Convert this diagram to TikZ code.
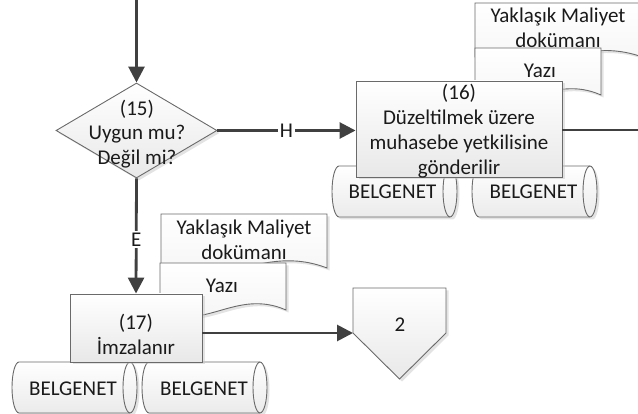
\documentclass[tikz,border=0pt]{standalone}
\usepackage{fontspec}
\setmainfont{Carlito}
\usetikzlibrary{shapes.geometric,arrows.meta,shadows}
\definecolor{linec}{HTML}{404040}
\definecolor{edgec}{HTML}{6A6A6A}
\definecolor{txtc}{HTML}{1A1A1A}
\begin{document}
\begin{tikzpicture}[x=1pt,y=-1pt,
  font=\fontsize{21}{24.8}\selectfont, text=txtc,
  shd/.style={drop shadow={shadow xshift=2.5pt,shadow yshift=-2.5pt,fill=black!22}},
  boxshape/.style={draw=edgec,line width=0.9pt,top color=white,bottom color=black!9,shd,inner sep=0pt},
  docshape/.style={draw=edgec,line width=0.9pt,top color=white,bottom color=black!5,shd},
  cylshape/.style={draw=edgec,line width=0.9pt,top color=white,bottom color=black!8,shd},
  cylline/.style={draw=edgec,line width=0.9pt},
  txt/.style={align=center,inner sep=0pt},
  conn/.style={draw=linec,line width=2.8pt,-{Triangle[length=16pt,width=16pt]}},
  plainconn/.style={draw=linec,line width=2.8pt},
  lab/.style={fill=white,inner sep=1.5pt,text=txtc}
]
\useasboundingbox (0,0) rectangle (638,414);
\clip (0,0) rectangle (638,414);

% ---------- upper right group ----------
\draw[docshape] (475,3) -- (645,3) -- (645,58) .. controls (577,32) and (535,84) .. (475,57) -- cycle;
\node[txt] (tdocA) at (558,28) {Yaklaşık Maliyet\\dokümanı};
\draw[docshape] (475,48) -- (601,48) -- (601,95) .. controls (550.6,72.9) and (519.1,118) .. (475,95) -- cycle;
\node[txt] (tdocB) at (540,71) {Yazı};

\draw[cylshape] (339,166) -- (450,166) arc[start angle=90,end angle=-90,x radius=7pt,y radius=25.5pt] -- (339,217) arc[start angle=270,end angle=90,x radius=7pt,y radius=25.5pt] -- cycle;
\draw[cylline] (450,166) arc[start angle=90,end angle=270,x radius=7pt,y radius=25.5pt];
\node[txt] (cylA) at (392.5,192) {BELGENET};
\draw[cylshape] (479,166) -- (590,166) arc[start angle=90,end angle=-90,x radius=7pt,y radius=25.5pt] -- (479,217) arc[start angle=270,end angle=90,x radius=7pt,y radius=25.5pt] -- cycle;
\draw[cylline] (590,166) arc[start angle=90,end angle=270,x radius=7pt,y radius=25.5pt];
\node[txt] (cylB) at (533.5,192) {BELGENET};

\node[boxshape,minimum width=206pt,minimum height=96pt] (b16) at (459,129) {};
\node[txt] (t16) at (459,131) {(16)\\Düzeltilmek üzere\\muhasebe yetkilisine\\gönderilir};

% ---------- lower left group ----------
\draw[docshape] (161,214) -- (327,214) -- (327,268) .. controls (260.6,242.6) and (219.1,294.5) .. (161,268) -- cycle;
\node[txt] (tdocC) at (244,240) {Yaklaşık Maliyet\\dokümanı};
\draw[docshape] (160,263) -- (286,263) -- (286,310) .. controls (235.6,287.9) and (204.1,333) .. (160,310) -- cycle;
\node[txt] (tdocD) at (222,286) {Yazı};

\draw[cylshape] (19,362) -- (130,362) arc[start angle=90,end angle=-90,x radius=7pt,y radius=25.5pt] -- (19,413) arc[start angle=270,end angle=90,x radius=7pt,y radius=25.5pt] -- cycle;
\draw[cylline] (130,362) arc[start angle=90,end angle=270,x radius=7pt,y radius=25.5pt];
\node[txt] (cylC) at (73,389) {BELGENET};
\draw[cylshape] (149,362) -- (260,362) arc[start angle=90,end angle=-90,x radius=7pt,y radius=25.5pt] -- (149,413) arc[start angle=270,end angle=90,x radius=7pt,y radius=25.5pt] -- cycle;
\draw[cylline] (260,362) arc[start angle=90,end angle=270,x radius=7pt,y radius=25.5pt];
\node[txt] (cylD) at (204,389) {BELGENET};

\node[boxshape,minimum width=132pt,minimum height=68pt] (b17) at (136,328) {};
\node[txt] (t17) at (136,334) {(17)\\İmzalanır};

% ---------- decision ----------
\node[boxshape,diamond,minimum width=161pt,minimum height=95pt] (d15) at (136.5,130.5) {};
\node[txt] (t15) at (137,134) {(15)\\Uygun mu?\\Değil mi?};

% ---------- off-page connector ----------
\draw[boxshape] (353,288) -- (446,288) -- (446,333) -- (399.5,379) -- (353,333) -- cycle;
\coordinate (op) at (353,333);
\node[txt] (t2) at (400,325) {2};

% ---------- connectors ----------
\coordinate (topin) at (136.5,0);
\coordinate (outR) at (640,130);
\draw[conn] (topin) -- (d15.north);
\draw[conn] (d15.east) -- (d15.east -| b16.west) node[lab,midway] (lH) {H};
\draw[conn] (d15.south) -- (b17.north) node[lab,pos=0.53] (lE) {E};
\draw[plainconn] (b16.east |- outR) -- (outR);
\draw[conn] (b17.east |- op) -- (op);
\end{tikzpicture}
\end{document}
